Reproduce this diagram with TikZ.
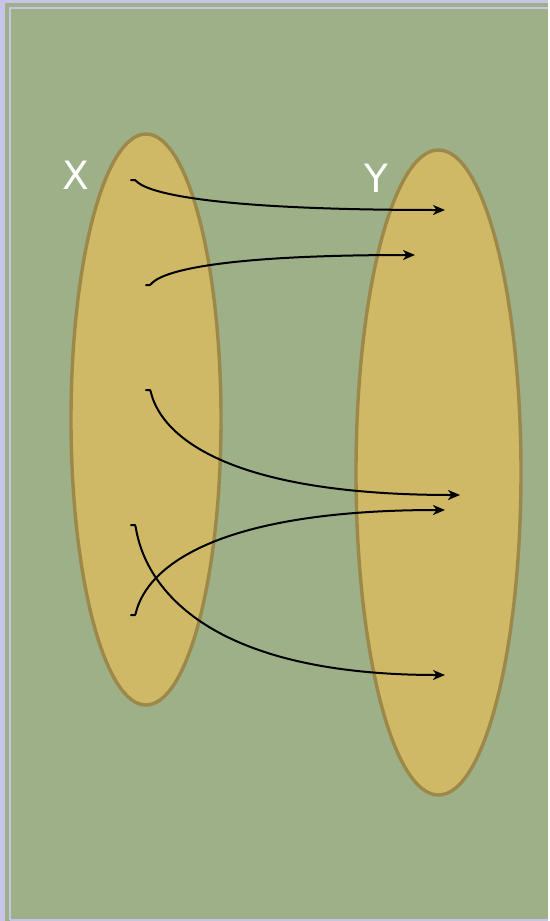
\documentclass[tikz,border=0pt]{standalone}
\usepackage{fontspec}
\setsansfont{DejaVu Sans}
\usepackage{tikz}
\usetikzlibrary{arrows.meta,shapes.geometric,calc}
\definecolor{lavender}{HTML}{C8C4E8}
\definecolor{sage}{HTML}{9DB087}
\definecolor{mustard}{HTML}{CFB966}
\definecolor{ochre}{HTML}{9C8848}
\tikzset{
    every picture/.style={line cap=round,line join=round},
    setblob/.style={ellipse,draw=ochre,fill=mustard,line width=3.4pt,inner sep=0pt},
    setname/.style={text=white,font=\sffamily\fontsize{39}{39}\selectfont,inner sep=0pt},
    mapedge/.style={-{Stealth[length=12pt,width=10pt,inset=3.5pt]},draw=black,
      line width=2pt,
      to path={-- ($(\tikztostart)+(4,0)$)
        .. controls ($(\tikztostart)+(7,0)$)
        and ($(\tikztostart |- \tikztotarget)+(5,0)$) .. (\tikztotarget)}}
}
\begin{document}
\begin{tikzpicture}[x=1pt,y=-1pt]
  % frame
  \fill[lavender] (0,0) rectangle (548,921);
  \fill[sage] (5,3) rectangle (548,921);
  \draw[lavender,line width=2pt,line cap=butt] (10,920) -- (10,7.5) -- (548,7.5);
  \draw[lavender,line width=2pt,line cap=butt] (10,920) -- (548,920);
  \useasboundingbox (0,0) rectangle (548,921);

  % the two sets
  \node[setblob,minimum width=150pt,minimum height=571pt] (X) at (146,419.5) {};
  \node[setblob,minimum width=165pt,minimum height=645pt] (Y) at (438.5,472.5) {};
  \node[setname] (xname) at (76,175) {X};
  \node[setname] (yname) at (376,178.5) {Y};

  % elements of X
  \coordinate (x1) at (131,180);
  \coordinate (x2) at (146,285);
  \coordinate (x3) at (146,390);
  \coordinate (x4) at (131,525);
  \coordinate (x5) at (131,615);
  % images in Y
  \coordinate (y1) at (445,210);
  \coordinate (y2) at (415,255);
  \coordinate (y3) at (460,495);
  \coordinate (y4) at (445,675);
  \coordinate (y5) at (445,510);

  \draw[mapedge] (x1) to (y1);
  \draw[mapedge] (x2) to (y2);
  \draw[mapedge] (x3) to (y3);
  \draw[mapedge] (x4) to (y4);
  \draw[mapedge] (x5) to (y5);
\end{tikzpicture}
\end{document}
